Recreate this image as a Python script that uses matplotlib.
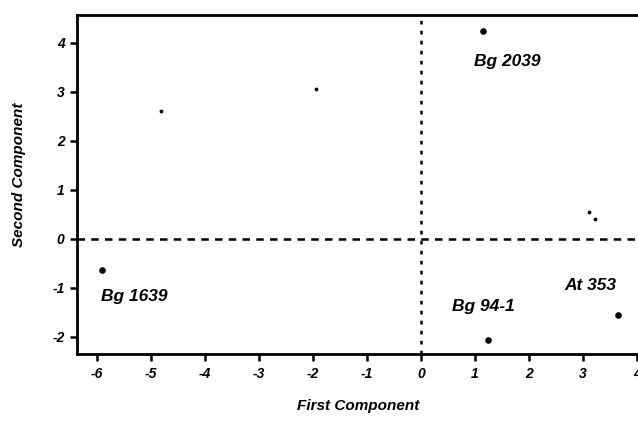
import numpy as np
import matplotlib
matplotlib.use("Agg")
import matplotlib.pyplot as plt

plt.rcParams['font.family'] = ['Liberation Sans', 'DejaVu Sans']
plt.rcParams['axes.unicode_minus'] = False

# labelled accessions
names = ['Bg 2039', 'Bg 1639', 'Bg 94-1', 'At 353']
pc1 = [1.14, -5.90, 1.24, 3.65]
pc2 = [4.24, -0.63, -2.06, -1.55]
label_dx = [-0.15, -0.02, -0.67, -1.0]
label_dy = [-0.62, -0.55, 0.69, 0.59]

# small unlabelled points
small_pc1 = [-4.82, -1.94, 3.12, 3.23]
small_pc2 = [2.61, 3.06, 0.55, 0.41]

xticks = [-6, -5, -4, -3, -2, -1, 0, 1, 2, 3, 4]
yticks = [-2, -1, 0, 1, 2, 3, 4]

fig = plt.figure(figsize=(6.38, 4.22), dpi=100)
ax = fig.add_axes([0.1207, 0.161, 0.8793 + 0.001, 0.8035])

ax.axhline(0, color='black', linestyle=(0, (3, 2.5)), linewidth=1.8)
ax.axvline(0, color='black', linestyle=(0, (1.5, 2.5)), linewidth=1.8)

ax.scatter(pc1, pc2, s=14, color='black', zorder=3)
ax.scatter(small_pc1, small_pc2, s=3, color='black', zorder=3)

for n, x, y, dx, dy in zip(names, pc1, pc2, label_dx, label_dy):
    ax.text(x + dx, y + dy, n, fontsize=12.5, fontweight='bold', fontstyle='italic',
            ha='left', va='center')

ax.set_xlim(-6.37, 4.03)
ax.set_ylim(-2.35, 4.57)
ax.set_xticks(xticks)
ax.set_yticks(yticks)
ax.set_xticklabels([str(t) for t in xticks], fontsize=10, fontweight='bold', fontstyle='italic')
ax.set_yticklabels([str(t) for t in yticks], fontsize=10, fontweight='bold', fontstyle='italic')
ax.tick_params(direction='out', length=5, width=1.8, pad=4)

ax.spines['right'].set_visible(False)
for s in ['left', 'bottom', 'top']:
    ax.spines[s].set_linewidth(2)

ax.set_xlabel('First Component', fontsize=11, fontweight='bold', fontstyle='italic', labelpad=13)
ax.set_ylabel('Second Component', fontsize=11, fontweight='bold', fontstyle='italic')
ax.yaxis.set_label_coords(-0.09, 0.53)

fig.savefig('out.png', dpi=100)
